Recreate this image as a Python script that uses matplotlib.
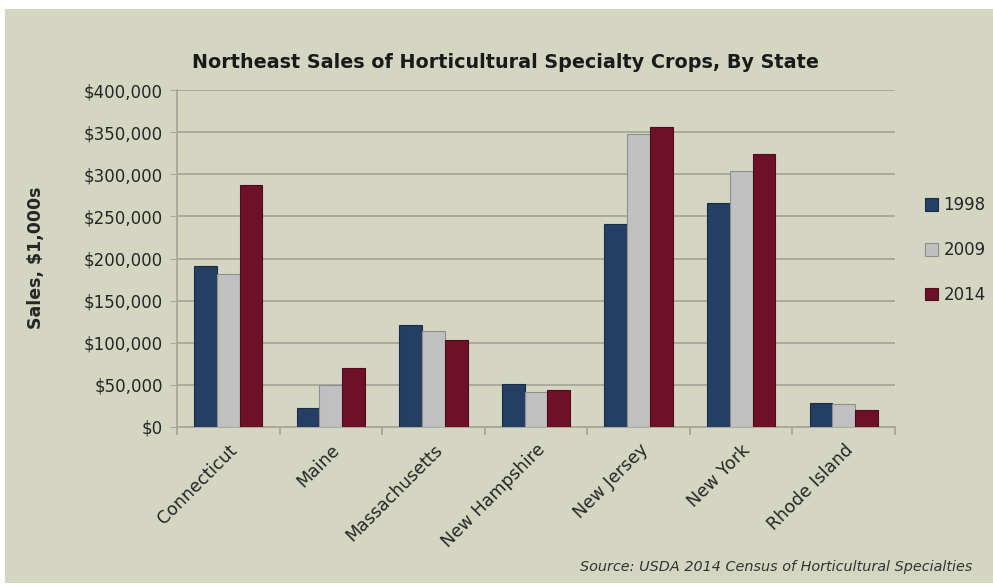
import matplotlib
matplotlib.use("Agg")
import matplotlib.pyplot as plt
import numpy as np
from matplotlib.patches import Rectangle
from matplotlib.ticker import FuncFormatter, MultipleLocator

states = ["Connecticut", "Maine", "Massachusetts", "New Hampshire", "New Jersey", "New York", "Rhode Island"]
years = ["1998", "2009", "2014"]
sales_1998 = [191000, 22000, 121000, 50500, 241000, 266000, 28000]
sales_2009 = [181500, 49500, 114000, 41000, 348000, 304000, 27000]
sales_2014 = [287000, 70000, 103000, 44000, 356000, 324000, 20000]
series = [sales_1998, sales_2009, sales_2014]
colors = ["#243f63", "#c0c0c0", "#6e1128"]
edges = ["#1a2d48", "#8e8e8e", "#4f0c1c"]
bg = "#d5d6c1"

W, H = 993, 587
fig = plt.figure(figsize=(W / 100, H / 100), dpi=100, facecolor="white")
fig.patches.append(Rectangle((5 / W, 4 / H), (W - 5) / W, (H - 13) / H,
                             transform=fig.transFigure, facecolor=bg, edgecolor="none", zorder=-10))

ax = fig.add_axes([177 / W, 1 - 427 / H, (895 - 177) / W, (427 - 90) / H])
ax.set_facecolor("none")
ax.set_zorder(5)

x = np.arange(len(states))
bw = 1 / 4.5
for i, (vals, c, e) in enumerate(zip(series, colors, edges)):
    ax.bar(x + (i - 1) * bw, vals, width=bw, color=c, edgecolor=e, linewidth=0.8,
           label=years[i], zorder=3)

ax.set_xlim(-0.5, len(states) - 0.5)
ax.set_ylim(0, 400000)
ax.yaxis.set_major_locator(MultipleLocator(50000))
ax.yaxis.set_major_formatter(FuncFormatter(lambda v, p: "${:,.0f}".format(v)))
ax.grid(axis="y", color="#a9aa9c", linewidth=1.4, zorder=1)
for s in ["top", "right"]:
    ax.spines[s].set_visible(False)
ax.spines["left"].set_color("#a9aa9c")
ax.spines["left"].set_linewidth(1.4)
ax.spines["bottom"].set_color("#a9aa9c")
ax.spines["bottom"].set_linewidth(1.4)
ax.tick_params(axis="y", length=5, color="#a9aa9c", labelsize=12, labelcolor="#262626", pad=5)

ax.set_xticks(x)
ax.set_xticklabels(states, rotation=45, ha="right", rotation_mode="anchor", fontsize=12.5, color="#262626")
ax.tick_params(axis="x", length=0, pad=10)
ax.set_xticks(np.arange(-0.5, len(states)), minor=True)
ax.tick_params(axis="x", which="minor", length=6, color="#a9aa9c", width=1.4)

fig.text(36 / W, 1 - 258 / H, "Sales, $1,000s", rotation=90, ha="center", va="center",
         fontsize=12.5, fontweight="bold", color="#262626")

fig.text(505 / W, 1 - 62 / H, "Northeast Sales of Horticultural Specialty Crops, By State",
         ha="center", va="center", fontsize=13.8, fontweight="bold", color="#1a1a1a")

leg = ax.legend(loc="center left", bbox_to_anchor=(910 / W, 1 - 250 / H), bbox_transform=fig.transFigure,
                frameon=False, fontsize=12, handlelength=0.8, handleheight=0.8, handletextpad=0.3,
                labelspacing=1.6)
for t in leg.get_texts():
    t.set_color("#262626")

fig.text(972 / W, 1 - 567 / H, "Source: USDA 2014 Census of Horticultural Specialties",
         ha="right", va="center", fontsize=10.4, style="italic", color="#333333")

fig.savefig("out.png", dpi=100, facecolor="white")
